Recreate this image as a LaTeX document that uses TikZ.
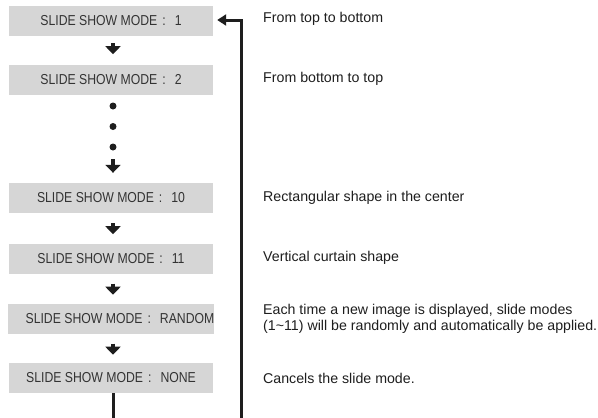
\documentclass[tikz,border=0pt]{standalone}
\usepackage{fontspec}
\setmainfont{Liberation Sans}
\newfontfamily\boxfont[FakeStretch=0.85]{Liberation Sans}
\usetikzlibrary{arrows.meta,calc}
\definecolor{boxgray}{HTML}{D6D6D6}
\definecolor{boxtext}{HTML}{333333}
\definecolor{linecol}{HTML}{1E1E1E}
\newcommand{\modecolon}{\hspace{5pt}:\hspace{9pt}}
\tikzset{
  modebox/.style={fill=boxgray, draw=none, minimum width=204pt, minimum height=30pt,
    inner sep=0pt, text=boxtext, font=\boxfont\fontsize{14.4pt}{16pt}\selectfont},
  desc/.style={anchor=west, inner sep=0pt, text=linecol, align=left,
    font=\fontsize{14.2pt}{16.5pt}\selectfont},
  flowarrow/.style={draw=linecol, line width=3.8pt,
    -{Triangle[width=15pt,length=8pt]}},
  backline/.style={draw=linecol, line width=3pt},
  dotmark/.style={circle, fill=linecol, inner sep=0pt, minimum size=7pt}
}
\begin{document}
\begin{tikzpicture}[x=1pt,y=-1pt]
\useasboundingbox (0,0) rectangle (598,418);
\fill[white] (0,0) rectangle (598,418);
\clip (0,0) rectangle (598,418);

\node[modebox] (b1) at (111,21) {SLIDE SHOW MODE\modecolon 1};
\node[modebox] (b2) at (111,79.5) {SLIDE SHOW MODE\modecolon 2};
\node[modebox] (b10) at (111,198) {SLIDE SHOW MODE\modecolon 10};
\node[modebox] (b11) at (111,258.5) {SLIDE SHOW MODE\modecolon 11};
\node[modebox] (br) at (111,318.5) {\hspace{18pt}SLIDE SHOW MODE\modecolon RANDOM};
\node[modebox] (bn) at (111,378) {SLIDE SHOW MODE\modecolon NONE};

\node[dotmark] (d1) at (113,106) {};
\node[dotmark] (d2) at (113,126.5) {};
\node[dotmark] (d3) at (113,147) {};
\coordinate (a10) at (113,159);

\draw[flowarrow] ($(b1.south)+(2,7)$) -- ++(0,11);
\draw[flowarrow] (a10) -- ($(b10.north)+(2,-10)$);
\draw[flowarrow] ($(b10.south)+(2,10)$) -- ++(0,11);
\draw[flowarrow] ($(b11.south)+(2,10)$) -- ++(0,11);
\draw[flowarrow] ($(br.south)+(2,10)$) -- ++(0,11);

\coordinate (loopbot) at (113,440);
\coordinate (loopright) at (241.5,440);
\coordinate (looptop) at (241.5,20);
\draw[backline, -{Triangle[width=11pt,length=9pt]}, shorten >=4pt]
  (bn.south -| loopbot) -- (loopbot) -- (loopright) -- (looptop) -- (looptop -| b1.east);

\node[desc] (t1) at (263,18.5) {From top to bottom};
\node[desc] (t2) at (263,79) {From bottom to top};
\node[desc] (t10) at (263,198) {Rectangular shape in the center};
\node[desc] (t11) at (263,258) {Vertical curtain shape};
\node[desc] (tr) at (263,319) {Each time a new image is displayed, slide modes\\(1\textasciitilde 11) will be randomly and automatically be applied.};
\node[desc] (tn) at (263,378) {Cancels the slide mode.};
\end{tikzpicture}
\end{document}
